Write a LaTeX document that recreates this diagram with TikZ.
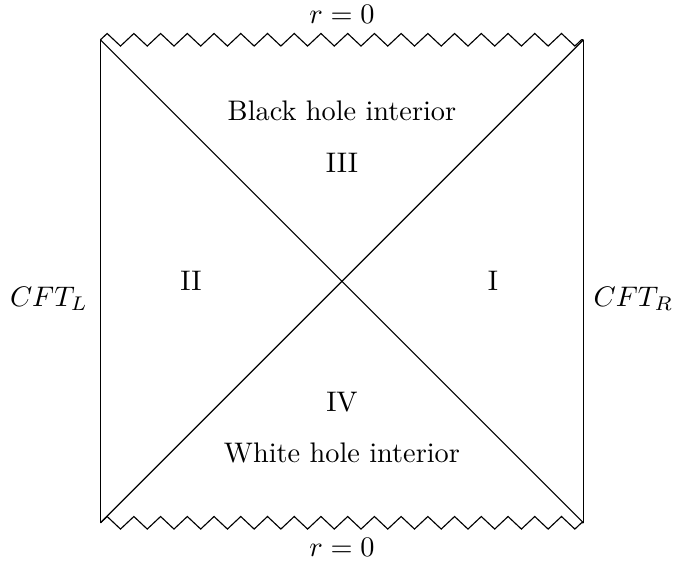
\documentclass[tikz,border=0pt]{standalone}
\begin{document}
\begin{tikzpicture}[
  edge/.style={draw=black, line width=0.4pt, line join=miter},
  lbl/.style={inner sep=2pt}
]
\useasboundingbox (-4.248,-3.487) rectangle (4.112,3.494);
\coordinate (bl) at (-3,-3);
\coordinate (br) at (3,-3);
\coordinate (tl) at (-3,3);
\coordinate (tr) at (3,3);
% boundaries
\draw[edge] (bl) -- (tl);
\draw[edge] (br) -- (tr);
% singularities (zigzag)
\draw[edge] (tl) \foreach \k in {0,...,35} { -- ({-3+0.083+\k*0.166},{3+0.078*(1-2*mod(\k,2))}) } -- (2.976,3) -- (tr);
\draw[edge] (bl) \foreach \k in {0,...,35} { -- ({-3+0.083+\k*0.166},{-3+0.078*(1-2*mod(\k,2))}) } -- (2.976,-3) -- (br);
% horizons
\draw[edge] (bl) -- (tr);
\draw[edge] (tl) -- (br);
% labels
\node[lbl] (rtop) at (0,3.32) {$r=0$};
\node[lbl] (rbot) at (0,-3.31) {$r=0$};
\node[lbl] (cftl) at (-3.64,-0.22) {$CFT_L$};
\node[lbl] (cftr) at (3.62,-0.22) {$CFT_R$};
\node[lbl] (bh) at (0,2.115) {Black hole interior};
\node[lbl] (r3) at (0,1.47) {III};
\node[lbl] (r2) at (-1.876,0) {II};
\node[lbl] (r1) at (1.876,0) {I};
\node[lbl] (r4) at (0,-1.50) {IV};
\node[lbl] (wh) at (0,-2.13) {White hole interior};
\end{tikzpicture}
\end{document}
